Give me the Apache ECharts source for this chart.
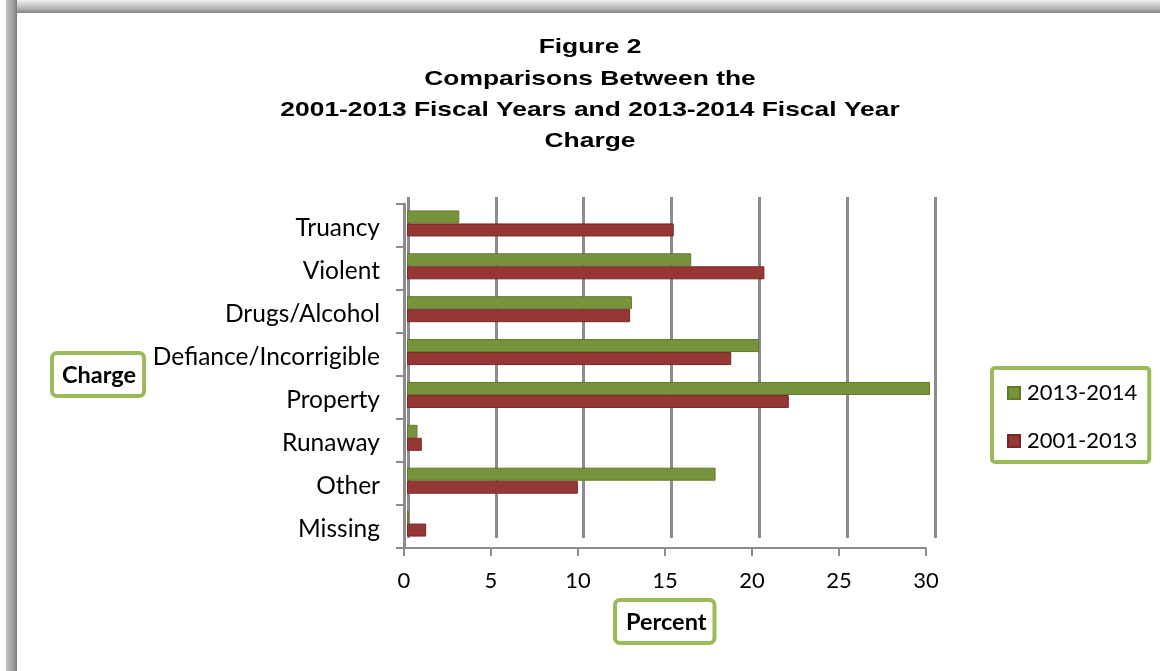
<!DOCTYPE html>
<html><head><meta charset="utf-8">
<script src="https://cdn.jsdelivr.net/npm/echarts@6/dist/echarts.min.js"></script>
<style>html,body{margin:0;padding:0;background:#fff}#c{width:1160px;height:671px}</style>
</head><body><div id="c"></div>
<script>
const categories = ['Truancy','Violent','Drugs/Alcohol','Defiance/Incorrigible','Property','Runaway','Other','Missing'];
const seriesNames = ['2013-2014','2001-2013'];
const values2013_2014 = [3.0, 16.3, 12.9, 20.2, 30.0, 0.6, 17.7, 0.1];
const values2001_2013 = [15.3, 20.5, 12.8, 18.6, 21.9, 0.85, 9.8, 1.1];
const xTicks = [0, 5, 10, 15, 20, 25, 30];
const titleLines = ['Figure 2','Comparisons Between the','2001-2013 Fiscal Years and 2013-2014 Fiscal Year','Charge'];

const GREEN = '#77933C', RED = '#953735', GRID = '#8c8c8c', BOX = '#9BBB59';
const font = 'Lato, "Open Sans", sans-serif';

const chart = echarts.init(document.getElementById('c'), null, {renderer:'canvas'});
chart.setOption({
  backgroundColor: '#fff',
  animation: false,
  legend: {
    orient: 'vertical', left: 992, top: 368,
    data: seriesNames,
    icon: 'rect', itemWidth: 12, itemHeight: 12, itemGap: 26,
    padding: [14, 12, 10, 15],
    borderColor: BOX, borderWidth: 4, borderRadius: 3,
    textStyle: {fontFamily: font, fontSize: 22, color: '#000', padding: [0,0,0,2]}
  },
  grid: [
    {left: 404, top: 204, width: 522, height: 344},
    {left: 408, top: 197, width: 527, height: 341},
    {left: 407, top: 202, width: 523, height: 343}
  ],
  xAxis: [
    {gridIndex: 0, type: 'value', min: 0, max: 30, interval: 5,
     axisLine: {show: true, onZero: false, lineStyle: {color: GRID, width: 2}},
     axisTick: {show: true, length: 8, lineStyle: {color: GRID, width: 2}},
     axisLabel: {fontFamily: font, fontSize: 22, color: '#000', margin: 22, formatter: v => xTicks.includes(v) ? String(v) : ''},
     splitLine: {show: false}},
    {gridIndex: 1, type: 'value', min: 0, max: 30, interval: 5,
     axisLine: {show: false}, axisTick: {show: false}, axisLabel: {show: false},
     splitLine: {show: true, lineStyle: {color: GRID, width: 3}}},
    {gridIndex: 2, type: 'value', min: 0, max: 30, interval: 5,
     axisLine: {show: false}, axisTick: {show: false}, axisLabel: {show: false}, splitLine: {show: false}}
  ],
  yAxis: [
    {gridIndex: 0, type: 'category', data: categories, inverse: true,
     axisLine: {show: true, onZero: false, lineStyle: {color: GRID, width: 3}},
     axisTick: {show: true, length: 8, lineStyle: {color: GRID, width: 2}},
     axisLabel: {margin: 24, formatter: v => '{a|' + v + '}',
       rich: {a: {fontFamily: font, fontSize: 24.5, color: '#000', padding: [6, 0, 0, 0]}}}},
    {gridIndex: 1, type: 'category', data: categories, inverse: true, show: false},
    {gridIndex: 2, type: 'category', data: categories, inverse: true, show: false}
  ],
  series: [
    {name: seriesNames[0], type: 'bar', xAxisIndex: 2, yAxisIndex: 2, data: values2013_2014,
     barWidth: 13, barGap: '0%', z: 3,
     itemStyle: {color: GREEN, borderColor: '#5f7a2b', borderWidth: 1}},
    {name: seriesNames[1], type: 'bar', xAxisIndex: 2, yAxisIndex: 2, data: values2001_2013,
     barWidth: 13, barGap: '0%', z: 3,
     itemStyle: {color: RED, borderColor: '#772826', borderWidth: 1}}
  ],
  graphic: [
    {type: 'rect', shape: {x: 6, y: 0, width: 1154, height: 13}, z: 100,
     style: {fill: new echarts.graphic.LinearGradient(0,0,0,1,[{offset:0,color:'#f0f0f0'},{offset:0.7,color:'#b0b0b0'},{offset:1,color:'#808080'}])}},
    {type: 'rect', shape: {x: 6, y: 0, width: 11, height: 671}, z: 101,
     style: {fill: new echarts.graphic.LinearGradient(0,0,1,0,[{offset:0,color:'#c4c4c4'},{offset:0.7,color:'#9a9a9a'},{offset:1,color:'#7a7a7a'}])}},
    {type: 'text', x: 590, y: 32, scaleX: 1.257, z: 50,
     style: {text: titleLines.join('\n'), align: 'center', verticalAlign: 'top',
       fontFamily: '"Liberation Sans", Arial, sans-serif', fontWeight: 'bold', fontSize: 21, lineHeight: 31.3, fill: '#000'}},
    {type: 'text', left: 50, top: 351, z: 50,
     style: {text: 'Charge', fontFamily: font, fontWeight: 'bold', fontSize: 23.5, fill: '#000',
       backgroundColor: '#fff', borderColor: BOX, borderWidth: 4, borderRadius: 3, padding: [8, 6, 7, 8]}},
    {type: 'text', left: 613, top: 598, z: 50,
     style: {text: 'Percent', fontFamily: font, fontWeight: 'bold', fontSize: 23.5, fill: '#000',
       backgroundColor: '#fff', borderColor: BOX, borderWidth: 4, borderRadius: 3, padding: [8, 6, 7, 9]}}
  ]
});
</script></body></html>
